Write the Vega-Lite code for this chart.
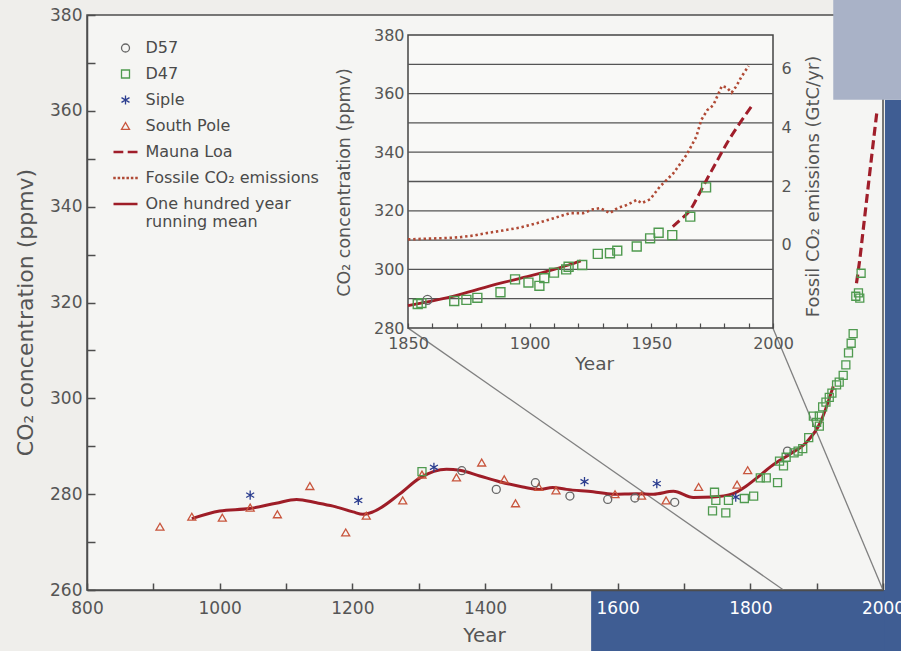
{
"$schema": "https://vega.github.io/schema/vega-lite/v6.json",
"width": 796,
"height": 575,
"autosize": "none",
"padding": {"left": 87, "top": 15, "right": 18, "bottom": 61},
"background": "#efeeeb",
"config": {
  "font": "DejaVu Sans",
  "view": {"fill": "#f5f5f3", "stroke": "#4d4d4d", "strokeWidth": 1.5},
  "axis": {"labelFont": "DejaVu Sans", "titleFont": "DejaVu Sans", "titleFontWeight": "normal", "labelColor": "#555555", "titleColor": "#555555", "domainColor": "#4d4d4d", "tickColor": "#4d4d4d", "labelFlush": false, "labelOverlap": false, "labelBound": false, "grid": false},
  "legend": {"labelFont": "DejaVu Sans"}
},
"datasets": {
  "decorDark": [
    {"x0": 1560, "x1": 2030, "y0": 247, "y1": 260},
    {"x0": 2003, "x1": 2030, "y0": 247, "y1": 362.3}
  ],
  "decorLight": [
    {"x0": 1925, "x1": 2030, "y0": 362.3, "y1": 384}
  ],
  "connectors": [
    {"x0": 1283.6, "y0": 314.7, "x1": 1850, "y1": 260},
    {"x0": 1834, "y0": 314.7, "x1": 2000, "y1": 260}
  ],
  "mainMean": [
    {"year": 958, "ppm": 274.9}, {"year": 1000, "ppm": 276.5}, {"year": 1045, "ppm": 277.0}, {"year": 1085, "ppm": 278.1},
    {"year": 1116, "ppm": 278.9}, {"year": 1146, "ppm": 278.2}, {"year": 1171, "ppm": 277.5}, {"year": 1201, "ppm": 276.3},
    {"year": 1216, "ppm": 275.8}, {"year": 1231, "ppm": 276.3}, {"year": 1271, "ppm": 280.0}, {"year": 1302, "ppm": 283.4},
    {"year": 1342, "ppm": 285.2}, {"year": 1362, "ppm": 285.0}, {"year": 1392, "ppm": 283.8}, {"year": 1422, "ppm": 282.6},
    {"year": 1457, "ppm": 281.5}, {"year": 1482, "ppm": 281.0}, {"year": 1502, "ppm": 281.4}, {"year": 1523, "ppm": 281.0},
    {"year": 1563, "ppm": 280.5}, {"year": 1593, "ppm": 280.0}, {"year": 1628, "ppm": 280.1}, {"year": 1654, "ppm": 280.0},
    {"year": 1684, "ppm": 280.6}, {"year": 1714, "ppm": 279.3}, {"year": 1744, "ppm": 279.4}, {"year": 1774, "ppm": 280.1},
    {"year": 1794, "ppm": 281.7}, {"year": 1809, "ppm": 283.3}, {"year": 1834, "ppm": 286.1}, {"year": 1860, "ppm": 288.4},
    {"year": 1885, "ppm": 290.9}, {"year": 1905, "ppm": 294.8}, {"year": 1925, "ppm": 302.5}
  ],
  "mainML": [
    {"year": 1960, "ppm": 324}, {"year": 1965, "ppm": 329}, {"year": 1970, "ppm": 335}, {"year": 1975, "ppm": 341},
    {"year": 1980, "ppm": 347}, {"year": 1985, "ppm": 353}, {"year": 1991, "ppm": 360}
  ],
  "mainPts": [
    {"year": 910, "ppm": 273.2, "series": "South Pole"}, {"year": 958, "ppm": 275.3, "series": "South Pole"},
    {"year": 1004, "ppm": 275.1, "series": "South Pole"}, {"year": 1046, "ppm": 277.2, "series": "South Pole"},
    {"year": 1087, "ppm": 275.8, "series": "South Pole"}, {"year": 1136, "ppm": 281.7, "series": "South Pole"},
    {"year": 1190, "ppm": 272.0, "series": "South Pole"}, {"year": 1221, "ppm": 275.5, "series": "South Pole"},
    {"year": 1276, "ppm": 278.7, "series": "South Pole"}, {"year": 1305, "ppm": 284.1, "series": "South Pole"},
    {"year": 1357, "ppm": 283.5, "series": "South Pole"}, {"year": 1395, "ppm": 286.6, "series": "South Pole"},
    {"year": 1429, "ppm": 283.1, "series": "South Pole"}, {"year": 1446, "ppm": 278.1, "series": "South Pole"},
    {"year": 1481, "ppm": 281.5, "series": "South Pole"}, {"year": 1507, "ppm": 280.8, "series": "South Pole"},
    {"year": 1596, "ppm": 280.0, "series": "South Pole"}, {"year": 1636, "ppm": 279.7, "series": "South Pole"},
    {"year": 1673, "ppm": 278.7, "series": "South Pole"}, {"year": 1722, "ppm": 281.5, "series": "South Pole"},
    {"year": 1780, "ppm": 282.0, "series": "South Pole"}, {"year": 1796, "ppm": 285.0, "series": "South Pole"},
    {"year": 1365, "ppm": 284.9, "series": "D57"}, {"year": 1417, "ppm": 281.0, "series": "D57"},
    {"year": 1476, "ppm": 282.4, "series": "D57"}, {"year": 1528, "ppm": 279.6, "series": "D57"},
    {"year": 1585, "ppm": 278.9, "series": "D57"}, {"year": 1626, "ppm": 279.2, "series": "D57"},
    {"year": 1686, "ppm": 278.3, "series": "D57"}, {"year": 1856, "ppm": 289.0, "series": "D57"},
    {"year": 1046, "ppm": 279.8, "series": "Siple"}, {"year": 1209, "ppm": 278.7, "series": "Siple"},
    {"year": 1323, "ppm": 285.6, "series": "Siple"}, {"year": 1550, "ppm": 282.6, "series": "Siple"},
    {"year": 1659, "ppm": 282.2, "series": "Siple"}, {"year": 1778, "ppm": 279.4, "series": "Siple"},
    {"year": 1305, "ppm": 284.7, "series": "D47"}, {"year": 1743, "ppm": 276.5, "series": "D47"},
    {"year": 1746, "ppm": 280.4, "series": "D47"}, {"year": 1748, "ppm": 278.7, "series": "D47"},
    {"year": 1763, "ppm": 276.1, "series": "D47"}, {"year": 1767, "ppm": 278.7, "series": "D47"},
    {"year": 1791, "ppm": 279.1, "series": "D47"}, {"year": 1805, "ppm": 279.6, "series": "D47"},
    {"year": 1815, "ppm": 283.4, "series": "D47"}, {"year": 1824, "ppm": 283.4, "series": "D47"},
    {"year": 1841, "ppm": 282.4, "series": "D47"}, {"year": 1844, "ppm": 286.9, "series": "D47"},
    {"year": 1850, "ppm": 285.9, "series": "D47"}, {"year": 1854, "ppm": 287.7, "series": "D47"},
    {"year": 1866, "ppm": 288.6, "series": "D47"}, {"year": 1872, "ppm": 289.0, "series": "D47"},
    {"year": 1879, "ppm": 289.5, "series": "D47"}, {"year": 1888, "ppm": 291.8, "series": "D47"},
    {"year": 1895, "ppm": 296.3, "series": "D47"}, {"year": 1900, "ppm": 295.0, "series": "D47"},
    {"year": 1904, "ppm": 294.2, "series": "D47"}, {"year": 1904, "ppm": 296.3, "series": "D47"},
    {"year": 1909, "ppm": 298.2, "series": "D47"}, {"year": 1914, "ppm": 299.2, "series": "D47"},
    {"year": 1919, "ppm": 300.2, "series": "D47"}, {"year": 1923, "ppm": 301.1, "series": "D47"},
    {"year": 1930, "ppm": 302.8, "series": "D47"}, {"year": 1934, "ppm": 303.4, "series": "D47"},
    {"year": 1940, "ppm": 304.8, "series": "D47"}, {"year": 1944, "ppm": 307.0, "series": "D47"},
    {"year": 1948, "ppm": 309.5, "series": "D47"}, {"year": 1952, "ppm": 311.5, "series": "D47"},
    {"year": 1955, "ppm": 313.5, "series": "D47"}, {"year": 1959, "ppm": 321.3, "series": "D47"},
    {"year": 1963, "ppm": 322.0, "series": "D47"}, {"year": 1965, "ppm": 320.9, "series": "D47"},
    {"year": 1967, "ppm": 326.1, "series": "D47"}
  ],
  "insetFrame": [{"x0": 1850, "x1": 2000, "y0": 280, "y1": 380}],
  "insetGrid": [{"ppm": 290}, {"ppm": 300}, {"ppm": 310}, {"ppm": 320}, {"ppm": 330}, {"ppm": 340}, {"ppm": 350}, {"ppm": 360}, {"ppm": 370}],
  "insetMean": [
    {"year": 1850, "ppm": 287.6}, {"year": 1858, "ppm": 288.9}, {"year": 1868, "ppm": 290.7}, {"year": 1878, "ppm": 293.0},
    {"year": 1888, "ppm": 295.3}, {"year": 1899, "ppm": 297.5}, {"year": 1910, "ppm": 300.0}, {"year": 1916, "ppm": 301.5},
    {"year": 1921, "ppm": 302.9}
  ],
  "insetML": [
    {"year": 1958.8, "ppm": 314.6}, {"year": 1962, "ppm": 317}, {"year": 1966, "ppm": 320.3}, {"year": 1969.5, "ppm": 325.5},
    {"year": 1973, "ppm": 331}, {"year": 1977, "ppm": 337}, {"year": 1981, "ppm": 343}, {"year": 1986, "ppm": 349.5},
    {"year": 1991.3, "ppm": 355.8}
  ],
  "insetPts": [
    {"year": 1854, "ppm": 288.2, "series": "D47"}, {"year": 1855.5, "ppm": 288.5, "series": "D47"},
    {"year": 1858, "ppm": 289.6, "series": "D57"}, {"year": 1869, "ppm": 289.2, "series": "D47"},
    {"year": 1874, "ppm": 289.6, "series": "D47"}, {"year": 1878.5, "ppm": 290.3, "series": "D47"},
    {"year": 1888, "ppm": 292.2, "series": "D47"}, {"year": 1894, "ppm": 296.6, "series": "D47"},
    {"year": 1899.5, "ppm": 295.5, "series": "D47"}, {"year": 1904, "ppm": 294.4, "series": "D47"},
    {"year": 1906, "ppm": 297.0, "series": "D47"}, {"year": 1910, "ppm": 298.9, "series": "D47"},
    {"year": 1915, "ppm": 300.0, "series": "D47"}, {"year": 1916, "ppm": 300.9, "series": "D47"},
    {"year": 1921.6, "ppm": 301.5, "series": "D47"}, {"year": 1928, "ppm": 305.3, "series": "D47"},
    {"year": 1933, "ppm": 305.5, "series": "D47"}, {"year": 1936, "ppm": 306.4, "series": "D47"},
    {"year": 1944, "ppm": 307.8, "series": "D47"}, {"year": 1949.5, "ppm": 310.6, "series": "D47"},
    {"year": 1953, "ppm": 312.5, "series": "D47"}, {"year": 1958.6, "ppm": 311.7, "series": "D47"},
    {"year": 1966, "ppm": 318.0, "series": "D47"}, {"year": 1972.5, "ppm": 328.0, "series": "D47"}
  ],
  "fossil": [
    {"year": 1850, "gtc": 0.19}, {"year": 1857, "gtc": 0.21}, {"year": 1864.5, "gtc": 0.23}, {"year": 1871, "gtc": 0.26},
    {"year": 1877, "gtc": 0.32}, {"year": 1882, "gtc": 0.40}, {"year": 1889, "gtc": 0.49}, {"year": 1896, "gtc": 0.59},
    {"year": 1903, "gtc": 0.74}, {"year": 1910, "gtc": 0.91}, {"year": 1916.5, "gtc": 1.08}, {"year": 1922, "gtc": 1.08},
    {"year": 1926, "gtc": 1.21}, {"year": 1929, "gtc": 1.25}, {"year": 1933, "gtc": 1.08}, {"year": 1936, "gtc": 1.25},
    {"year": 1940, "gtc": 1.36}, {"year": 1944, "gtc": 1.53}, {"year": 1946, "gtc": 1.42}, {"year": 1949.5, "gtc": 1.55},
    {"year": 1953.5, "gtc": 1.98}, {"year": 1959, "gtc": 2.43}, {"year": 1964.5, "gtc": 3.06}, {"year": 1968.5, "gtc": 3.68},
    {"year": 1970.5, "gtc": 4.24}, {"year": 1973, "gtc": 4.58}, {"year": 1975.5, "gtc": 4.75}, {"year": 1979, "gtc": 5.40},
    {"year": 1981, "gtc": 5.35}, {"year": 1983, "gtc": 5.17}, {"year": 1985, "gtc": 5.40}, {"year": 1987, "gtc": 5.71},
    {"year": 1990, "gtc": 6.08}
  ]
},
"resolve": {"scale": {"x": "independent", "y": "independent"}},
"layer": [
  {
    "layer": [
      {
        "data": {"name": "mainPts"},
        "mark": {"type": "point", "filled": false, "size": 64, "strokeWidth": 1.3, "opacity": 0},
        "encoding": {
          "x": {"field": "year", "type": "quantitative", "scale": {"domain": [800, 2000], "nice": false, "zero": false},
            "axis": {"orient": "bottom", "values": [800, 900, 1000, 1100, 1200, 1300, 1400, 1500, 1600, 1700, 1800, 1900, 2000], "format": "d",
              "labelExpr": "datum.value % 200 === 0 ? datum.label : ''", "tickSize": -7, "labelPadding": 17, "labelFontSize": 17,
              "labelColor": {"condition": {"test": "datum.value >= 1600", "value": "#ffffff"}, "value": "#555555"},
              "title": "Year", "titleFontSize": 20, "titleX": 397, "titleY": 45, "titleBaseline": "middle", "titleAlign": "center",
              "zindex": 1, "domainWidth": 1.5, "tickWidth": 1.5}},
          "y": {"field": "ppm", "type": "quantitative", "scale": {"domain": [260, 380], "nice": false, "zero": false},
            "axis": {"orient": "left", "values": [260, 270, 280, 290, 300, 310, 320, 330, 340, 350, 360, 370, 380],
              "labelExpr": "datum.value % 20 === 0 ? datum.label : ''", "tickSize": -8, "labelPadding": 13, "labelFontSize": 17,
              "title": "CO₂ concentration (ppmv)", "titleFontSize": 22, "titleX": -62, "titleY": 297, "titleBaseline": "middle",
              "titleAlign": "center", "titleAngle": -90, "zindex": 1, "domainWidth": 1.5, "tickWidth": 1.5}}
        }
      },
      {
        "data": {"name": "decorDark"},
        "mark": {"type": "rect", "fill": "#3f5d93", "clip": false},
        "encoding": {
          "x": {"field": "x0", "type": "quantitative", "scale": {"domain": [800, 2000], "nice": false, "zero": false}},
          "x2": {"field": "x1"},
          "y": {"field": "y0", "type": "quantitative", "scale": {"domain": [260, 380], "nice": false, "zero": false}},
          "y2": {"field": "y1"}
        }
      },
      {
        "data": {"name": "decorLight"},
        "mark": {"type": "rect", "fill": "#a9b2c7", "clip": false},
        "encoding": {
          "x": {"field": "x0", "type": "quantitative", "scale": {"domain": [800, 2000], "nice": false, "zero": false}},
          "x2": {"field": "x1"},
          "y": {"field": "y0", "type": "quantitative", "scale": {"domain": [260, 380], "nice": false, "zero": false}},
          "y2": {"field": "y1"}
        }
      },
      {
        "data": {"name": "connectors"},
        "mark": {"type": "rule", "color": "#808080", "strokeWidth": 1.3},
        "encoding": {
          "x": {"field": "x0", "type": "quantitative", "scale": {"domain": [800, 2000], "nice": false, "zero": false}},
          "x2": {"field": "x1"},
          "y": {"field": "y0", "type": "quantitative", "scale": {"domain": [260, 380], "nice": false, "zero": false}},
          "y2": {"field": "y1"}
        }
      },
      {
        "data": {"name": "mainMean"},
        "mark": {"type": "line", "color": "#9e1d27", "strokeWidth": 3, "interpolate": "monotone"},
        "encoding": {
          "x": {"field": "year", "type": "quantitative", "scale": {"domain": [800, 2000], "nice": false, "zero": false}},
          "y": {"field": "ppm", "type": "quantitative", "scale": {"domain": [260, 380], "nice": false, "zero": false}}
        }
      },
      {
        "data": {"name": "mainML"},
        "mark": {"type": "line", "color": "#a01e2a", "strokeWidth": 3.2, "strokeDash": [9, 4.5], "interpolate": "monotone"},
        "encoding": {
          "x": {"field": "year", "type": "quantitative", "scale": {"domain": [800, 2000], "nice": false, "zero": false}},
          "y": {"field": "ppm", "type": "quantitative", "scale": {"domain": [260, 380], "nice": false, "zero": false}}
        }
      },
      {
        "data": {"name": "mainPts"},
        "mark": {"type": "point", "filled": false, "size": 64, "strokeWidth": 1.3, "opacity": 1},
        "encoding": {
          "x": {"field": "year", "type": "quantitative", "scale": {"domain": [800, 2000], "nice": false, "zero": false}},
          "y": {"field": "ppm", "type": "quantitative", "scale": {"domain": [260, 380], "nice": false, "zero": false}},
          "color": {"field": "series", "type": "nominal",
            "scale": {"domain": ["D57", "D47", "Siple", "South Pole", "Mauna Loa", "Fossile CO₂ emissions", "One hundred year running mean"],
              "range": ["#666666", "#4f9a4f", "#2b3d8f", "#c8553d", "#a01e2a", "#b04a35", "#9e1d27"]},
            "legend": {"orient": "none", "legendX": 30.5, "legendY": 25, "title": null, "labelFontSize": 16, "labelColor": "#4a4a4a",
              "symbolSize": 64, "symbolStrokeWidth": 1.3, "labelOffset": 12, "rowPadding": 10, "padding": 0, "labelLimit": 400,
              "labelLineHeight": 18,
              "labelExpr": "datum.label === 'One hundred year running mean' ? ['One hundred year', 'running mean'] : datum.label"}},
          "shape": {"field": "series", "type": "nominal",
            "scale": {"domain": ["D57", "D47", "Siple", "South Pole", "Mauna Loa", "Fossile CO₂ emissions", "One hundred year running mean"],
              "range": ["circle", "square", "M0,-1.15V1.15M-1,-0.58L1,0.58M-1,0.58L1,-0.58", "triangle-up",
                "M-3,-0.15H-0.55M-3,0.15H-0.55M0.55,-0.15H3M0.55,0.15H3",
                "M-2.9,-0.15h0.3v0.3h-0.3zM-1.8,-0.15h0.3v0.3h-0.3zM-0.7,-0.15h0.3v0.3h-0.3zM0.4,-0.15h0.3v0.3h-0.3zM1.5,-0.15h0.3v0.3h-0.3zM2.6,-0.15h0.3v0.3h-0.3z",
                "M-3,-0.15H3M-3,0.15H3"]},
            "legend": {"orient": "none", "legendX": 30.5, "legendY": 25, "title": null, "labelFontSize": 16, "labelColor": "#4a4a4a",
              "symbolSize": 64, "symbolStrokeWidth": 1.3, "labelOffset": 12, "rowPadding": 10, "padding": 0, "labelLimit": 400,
              "labelLineHeight": 18,
              "labelExpr": "datum.label === 'One hundred year running mean' ? ['One hundred year', 'running mean'] : datum.label"}}
        }
      }
    ]
  },
  {
    "resolve": {"scale": {"y": "independent"}},
    "layer": [
      {
        "layer": [
          {
            "data": {"name": "insetFrame"},
            "mark": {"type": "rect", "fill": "#f9f9f7", "stroke": "#444444", "strokeWidth": 1.5},
            "encoding": {
              "x": {"field": "x0", "type": "quantitative", "scale": {"domain": [1850, 2000], "range": [321, 686], "nice": false, "zero": false},
                "axis": {"orient": "bottom", "offset": -262, "values": [1850, 1860, 1870, 1880, 1890, 1900, 1910, 1920, 1930, 1940, 1950, 1960, 1970, 1980, 1990, 2000],
                  "format": "d", "labelExpr": "datum.value % 50 === 0 ? datum.label : ''", "tickSize": -5, "labelPadding": 12,
                  "labelFontSize": 16, "domain": false, "title": "Year", "titleFontSize": 18.5, "titleX": 507, "titleY": 35,
                  "titleBaseline": "middle", "titleAlign": "center", "zindex": 1, "tickWidth": 1.2}},
              "x2": {"field": "x1"},
              "y": {"field": "y0", "type": "quantitative", "scale": {"domain": [280, 380], "range": [313, 20], "nice": false, "zero": false},
                "axis": {"orient": "left", "offset": -321, "values": [280, 300, 320, 340, 360, 380], "ticks": false, "domain": false,
                  "labelPadding": 4, "labelFontSize": 16, "title": "CO₂ concentration (ppmv)", "titleFontSize": 17.5, "titleX": -64,
                  "titleY": 167, "titleBaseline": "middle", "titleAlign": "center", "titleAngle": -90, "zindex": 1}},
              "y2": {"field": "y1"}
            }
          },
          {
            "data": {"name": "insetGrid"},
            "mark": {"type": "rule", "color": "#555555", "strokeWidth": 1.3},
            "encoding": {
              "x": {"datum": 1850, "type": "quantitative", "scale": {"domain": [1850, 2000], "range": [321, 686], "nice": false, "zero": false}},
              "x2": {"datum": 2000},
              "y": {"field": "ppm", "type": "quantitative", "scale": {"domain": [280, 380], "range": [313, 20], "nice": false, "zero": false}}
            }
          },
          {
            "data": {"name": "insetMean"},
            "mark": {"type": "line", "color": "#9e1d27", "strokeWidth": 2.8, "interpolate": "monotone"},
            "encoding": {
              "x": {"field": "year", "type": "quantitative", "scale": {"domain": [1850, 2000], "range": [321, 686], "nice": false, "zero": false}},
              "y": {"field": "ppm", "type": "quantitative", "scale": {"domain": [280, 380], "range": [313, 20], "nice": false, "zero": false}}
            }
          },
          {
            "data": {"name": "insetML"},
            "mark": {"type": "line", "color": "#a01e2a", "strokeWidth": 3, "strokeDash": [9, 4.5], "interpolate": "monotone"},
            "encoding": {
              "x": {"field": "year", "type": "quantitative", "scale": {"domain": [1850, 2000], "range": [321, 686], "nice": false, "zero": false}},
              "y": {"field": "ppm", "type": "quantitative", "scale": {"domain": [280, 380], "range": [313, 20], "nice": false, "zero": false}}
            }
          },
          {
            "data": {"name": "insetPts"},
            "mark": {"type": "point", "filled": false, "size": 80, "strokeWidth": 1.4, "opacity": 1},
            "encoding": {
              "x": {"field": "year", "type": "quantitative", "scale": {"domain": [1850, 2000], "range": [321, 686], "nice": false, "zero": false}},
              "y": {"field": "ppm", "type": "quantitative", "scale": {"domain": [280, 380], "range": [313, 20], "nice": false, "zero": false}},
              "color": {"field": "series", "type": "nominal",
                "scale": {"domain": ["D57", "D47", "Siple", "South Pole", "Mauna Loa", "Fossile CO₂ emissions", "One hundred year running mean"],
                  "range": ["#666666", "#4f9a4f", "#2b3d8f", "#c8553d", "#a01e2a", "#b04a35", "#9e1d27"]},
                "legend": {"orient": "none", "legendX": 30.5, "legendY": 25, "title": null, "labelFontSize": 16, "labelColor": "#4a4a4a",
                  "symbolSize": 64, "symbolStrokeWidth": 1.3, "labelOffset": 12, "rowPadding": 10, "padding": 0, "labelLimit": 400,
                  "labelLineHeight": 18,
                  "labelExpr": "datum.label === 'One hundred year running mean' ? ['One hundred year', 'running mean'] : datum.label"}},
              "shape": {"field": "series", "type": "nominal",
                "scale": {"domain": ["D57", "D47", "Siple", "South Pole", "Mauna Loa", "Fossile CO₂ emissions", "One hundred year running mean"],
                  "range": ["circle", "square", "M0,-1.15V1.15M-1,-0.58L1,0.58M-1,0.58L1,-0.58", "triangle-up",
                    "M-3,-0.15H-0.55M-3,0.15H-0.55M0.55,-0.15H3M0.55,0.15H3",
                    "M-2.9,-0.15h0.3v0.3h-0.3zM-1.8,-0.15h0.3v0.3h-0.3zM-0.7,-0.15h0.3v0.3h-0.3zM0.4,-0.15h0.3v0.3h-0.3zM1.5,-0.15h0.3v0.3h-0.3zM2.6,-0.15h0.3v0.3h-0.3z",
                    "M-3,-0.15H3M-3,0.15H3"]},
                "legend": {"orient": "none", "legendX": 30.5, "legendY": 25, "title": null, "labelFontSize": 16, "labelColor": "#4a4a4a",
                  "symbolSize": 64, "symbolStrokeWidth": 1.3, "labelOffset": 12, "rowPadding": 10, "padding": 0, "labelLimit": 400,
                  "labelLineHeight": 18,
                  "labelExpr": "datum.label === 'One hundred year running mean' ? ['One hundred year', 'running mean'] : datum.label"}}
            }
          }
        ]
      },
      {
        "data": {"name": "fossil"},
        "mark": {"type": "line", "color": "#b04a35", "strokeWidth": 2.6, "strokeDash": [2.4, 2.8], "strokeCap": "butt"},
        "encoding": {
          "x": {"field": "year", "type": "quantitative", "scale": {"domain": [1850, 2000], "range": [321, 686], "nice": false, "zero": false}},
          "y": {"field": "gtc", "type": "quantitative", "scale": {"domain": [-2.82, 7.13], "range": [313, 20], "nice": false, "zero": false},
            "axis": {"orient": "right", "offset": -110, "values": [0, 2, 4, 6], "ticks": false, "domain": false, "labelPadding": 8,
              "labelFontSize": 16, "title": "Fossil CO₂ emissions (GtC/yr)", "titleFontSize": 18, "titleX": 40, "titleY": 171,
              "titleAngle": -90, "titleBaseline": "middle", "titleAlign": "center", "zindex": 1}}
        }
      }
    ]
  }
]
}
